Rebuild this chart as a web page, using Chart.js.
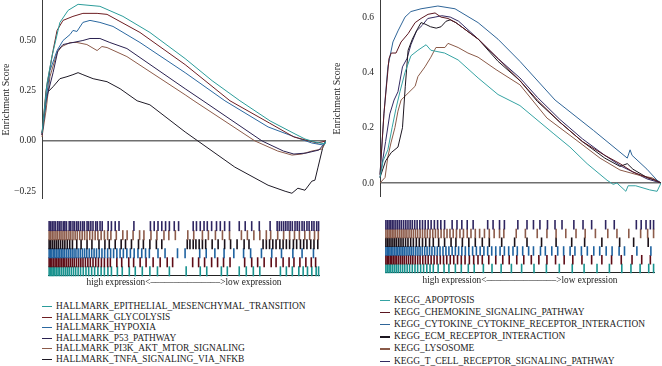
<!DOCTYPE html>
<html>
<head>
<meta charset="utf-8">
<script src="https://cdn.jsdelivr.net/npm/chart.js@4.4.1/dist/chart.umd.min.js"></script>
<style>
  body { margin: 0; background: #fff; }
  #page { position: relative; width: 662px; height: 366px; overflow: hidden; font-family: "Liberation Serif", "Times New Roman", serif; }
  canvas { position: absolute; }
  .key { position: absolute; white-space: nowrap; font-size: 9.4px; color: #1c1c1c; height: 10px; line-height: 10px; }
  .key i { position: absolute; top: 5px; height: 1.3px; }
</style>
</head>
<body>
<div id="page">
  <canvas id="esLeft" width="326" height="199" style="left:0;top:0"></canvas>
  <canvas id="esRight" width="330" height="197" style="left:331px;top:0"></canvas>
  <canvas id="barLeft" width="284" height="73" style="left:42px;top:215px"></canvas>
  <canvas id="barRight" width="282" height="72" style="left:379px;top:214px"></canvas>
</div>
<script>
// ---- hallmark gene sets (left) ----
const hmNames = ['HALLMARK_EPITHELIAL_MESENCHYMAL_TRANSITION', 'HALLMARK_GLYCOLYSIS', 'HALLMARK_HYPOXIA',
  'HALLMARK_P53_PATHWAY', 'HALLMARK_PI3K_AKT_MTOR_SIGNALING', 'HALLMARK_TNFA_SIGNALING_VIA_NFKB'];
const hmColors = ['#2b9c9a', '#6e1e22', '#2b68a0', '#2a2150', '#8c5b4a', '#1e1a26'];
// barcode row colours, top -> bottom
const hmBarColors = ['#2e2560', '#8c5b4a', '#1a1018', '#1f62a0', '#5e0c16', '#18928e'];
const hmTicks = [-0.25, 0, 0.25, 0.5];

// rank position in percent of the ranked list, running enrichment score
const emtRank = [0, 1.8, 3.5, 6.3, 9.2, 12.7, 20.4, 28.5, 38, 50.4, 59.9, 69.7, 80.3, 89.1, 92.6, 96.1, 99.6, 100];
const emtScore = [0.04, 0.29, 0.42, 0.59, 0.65, 0.68, 0.67, 0.62, 0.54, 0.41, 0.30, 0.20, 0.10, 0.035, 0.01, -0.005, -0.015, 0];
const glyRank = [0, 1.4, 3.9, 5.3, 7.4, 10.9, 14.4, 19.4, 22.9, 34.5, 50.4, 66.2, 80, 88.7, 97, 100];
const glyScore = [0.03, 0.25, 0.45, 0.55, 0.60, 0.62, 0.635, 0.635, 0.63, 0.54, 0.38, 0.20, 0.09, 0.02, -0.01, 0];
const hypRank = [0, 1.4, 2.8, 5.3, 7.4, 9.9, 10.9, 12.3, 14.4, 16.9, 20.4, 25, 34.5, 50.4, 64.4, 79.6, 89, 95, 99, 100];
const hypScore = [0.03, 0.20, 0.35, 0.45, 0.50, 0.53, 0.55, 0.545, 0.59, 0.60, 0.59, 0.57, 0.49, 0.34, 0.20, 0.07, 0.02, -0.01, -0.02, 0];
const p53Rank = [0, 1.4, 3.9, 5.6, 7.4, 10.9, 14.4, 16.9, 20.4, 23.9, 29.9, 50.4, 56.7, 77.5, 85, 88.7, 93, 97.5, 99, 100];
const p53Score = [0.03, 0.20, 0.34, 0.45, 0.48, 0.49, 0.50, 0.51, 0.51, 0.49, 0.46, 0.26, 0.20, 0.0, -0.05, -0.065, -0.06, -0.045, -0.02, 0];
const pi3kRank = [0, 1.4, 2.8, 5.3, 7, 9.9, 12.3, 15.8, 19.4, 21.1, 22.9, 29.9, 50.4, 53.5, 75, 83, 88, 91.5, 95, 98.6, 100];
const pi3kScore = [0.02, 0.15, 0.32, 0.44, 0.47, 0.49, 0.49, 0.48, 0.45, 0.47, 0.465, 0.42, 0.23, 0.20, 0.0, -0.05, -0.07, -0.065, -0.05, -0.04, 0];
const tnfaRank = [0, 1.8, 3.9, 6.3, 8.8, 10.9, 12.7, 14.4, 18, 22.9, 27.5, 33.5, 38, 50.4, 54.9, 67.9, 79.6, 85.6, 88, 90.1, 92.6, 95, 96.1, 97.2, 98.9, 100];
const tnfaScore = [0.04, 0.24, 0.27, 0.31, 0.32, 0.33, 0.34, 0.33, 0.31, 0.295, 0.26, 0.20, 0.18, 0.045, 0.0, -0.13, -0.22, -0.25, -0.26, -0.235, -0.245, -0.20, -0.195, -0.13, -0.03, 0];

// hit positions (percent of ranked list), barcode rows top -> bottom (TNFA ... EMT)
const hmHits = [
  [0.2, 0.8, 1.4, 2.0, 2.6, 3.4, 4.0, 4.6, 5.4, 6.0, 6.6, 7.6, 8.2, 9.0, 9.6, 10.4, 11.0, 11.8, 12.6, 13.2, 14.2, 14.8, 15.6, 16.4, 17.4, 18.0, 19.0, 19.8, 22.0, 23.2, 24.6, 26.0, 31.5, 37.6, 39.0, 40.4, 41.8, 43.2, 44.6, 46.4, 48.0, 53.4, 54.6, 56.0, 57.4, 58.6, 60.2, 62.0, 63.4, 65.0, 66.8, 70.4, 72.6, 75.0, 77.8, 81.8, 84.4, 85.2, 86.0, 86.8, 87.6, 88.4, 89.2, 90.0, 91.0, 91.8, 92.6, 93.6, 94.4, 95.4, 96.2, 97.2, 98.0, 99.0, 99.7],
  [0.2, 0.8, 1.4, 2.0, 2.7, 3.3, 4.0, 4.6, 5.3, 6.0, 6.7, 7.5, 8.2, 9.0, 9.8, 10.6, 11.5, 12.4, 13.3, 14.2, 15.2, 16.2, 17.2, 18.2, 19.4, 20.6, 21.8, 23.0, 25.0, 27.4, 29.0, 31.2, 33.6, 35.2, 37.8, 40.0, 42.6, 44.4, 46.8, 51.4, 53.6, 56.8, 59.0, 61.6, 64.2, 66.8, 71.2, 73.4, 75.8, 78.0, 80.4, 82.0, 84.6, 86.8, 89.0, 90.8, 92.6, 94.6, 96.4, 98.2, 99.6],
  [0.2, 0.8, 1.5, 2.2, 2.9, 3.6, 4.4, 5.2, 6.0, 6.9, 7.8, 8.8, 10.4, 12.0, 14.2, 16.0, 18.6, 20.8, 22.4, 24.6, 26.8, 28.4, 30.6, 33.2, 35.0, 37.4, 39.8, 41.8, 51.2, 52.2, 53.4, 54.4, 55.6, 56.8, 58.0, 60.4, 62.6, 65.0, 67.2, 69.6, 72.2, 74.0, 79.2, 80.4, 81.6, 82.8, 84.0, 85.4, 86.6, 87.8, 89.0, 90.4, 91.6, 93.0, 94.2, 95.4, 96.8, 98.0, 99.4],
  [0.2, 0.7, 1.2, 1.8, 2.3, 2.9, 3.5, 4.1, 4.7, 5.3, 5.9, 6.6, 7.3, 8.0, 8.7, 9.4, 10.1, 10.9, 11.7, 12.5, 13.3, 14.1, 15.0, 15.9, 16.8, 17.7, 18.7, 19.7, 20.7, 21.8, 22.9, 24.0, 25.2, 26.4, 27.6, 28.9, 30.2, 31.6, 33.0, 34.4, 35.8, 37.2, 40.4, 43.0, 47.6, 50.4, 55.8, 58.2, 61.4, 64.8, 68.4, 72.0, 74.6, 78.6, 82.4, 86.0, 90.2, 93.6, 97.8],
  [0.2, 0.7, 1.2, 1.8, 2.4, 3.0, 3.6, 4.2, 4.8, 5.4, 6.0, 6.7, 7.4, 8.1, 8.8, 9.5, 10.3, 11.1, 11.9, 12.7, 13.6, 14.5, 15.4, 16.4, 17.4, 18.4, 19.5, 20.6, 21.8, 22.8, 25.2, 27.0, 29.6, 31.4, 33.8, 36.0, 38.6, 41.2, 43.8, 45.8, 53.2, 55.4, 57.6, 60.2, 62.4, 64.6, 67.0, 72.4, 75.0, 77.2, 79.6, 82.2, 84.0, 86.6, 88.8, 90.6, 92.8, 95.0, 97.0, 98.6],
  [0.2, 0.7, 1.2, 1.7, 2.3, 2.9, 3.5, 4.1, 4.8, 5.5, 6.2, 6.9, 7.6, 8.4, 9.2, 10.0, 10.9, 11.8, 12.8, 13.8, 14.8, 15.9, 17.0, 18.2, 19.4, 20.6, 21.9, 23.2, 25.4, 27.2, 29.8, 32.0, 34.6, 37.4, 40.2, 44.6, 50.8, 56.0, 58.4, 63.8, 66.0, 70.4, 73.0, 75.6, 78.0, 85.6, 87.8, 90.0, 92.4, 94.0, 95.6, 97.2, 98.8, 99.7]
];

// ---- KEGG gene sets (right) ----
const kgNames = ['KEGG_APOPTOSIS', 'KEGG_CHEMOKINE_SIGNALING_PATHWAY', 'KEGG_CYTOKINE_CYTOKINE_RECEPTOR_INTERACTION',
  'KEGG_ECM_RECEPTOR_INTERACTION', 'KEGG_LYSOSOME', 'KEGG_T_CELL_RECEPTOR_SIGNALING_PATHWAY'];
const kgColors = ['#35a3a3', '#5a1620', '#2f6598', '#1c1620', '#8a5a48', '#332a62'];
const kgBarColors = ['#2e2560', '#8c5b4a', '#1a1018', '#1f62a0', '#5e0c16', '#18928e'];
const kgTicks = [0, 0.2, 0.4, 0.6];

const apoRank = [0, 1.1, 2.8, 4.3, 5.7, 7.1, 8.9, 11, 13.5, 16.4, 18.1, 23, 27.8, 34.9, 42, 49.8, 61.6, 67.6, 73.7, 80.8, 83, 84.3, 87.5, 88.3, 91, 96, 98.6, 100];
const apoScore = [0.02, 0.08, 0.12, 0.20, 0.27, 0.33, 0.40, 0.46, 0.48, 0.50, 0.48, 0.47, 0.445, 0.38, 0.32, 0.28, 0.18, 0.13, 0.07, 0.01, -0.005, 0.0, -0.03, -0.01, -0.01, -0.025, -0.03, 0];
const chemoRank = [0, 1.4, 3.2, 4, 5.7, 7.5, 10, 12.5, 14.6, 17.1, 19.6, 21.7, 24.2, 27, 35, 42, 49.8, 56, 64, 72, 80, 85.4, 90, 95, 98, 100];
const chemoScore = [0.03, 0.25, 0.45, 0.47, 0.47, 0.51, 0.54, 0.58, 0.595, 0.61, 0.615, 0.60, 0.595, 0.58, 0.52, 0.45, 0.37, 0.30, 0.22, 0.15, 0.10, 0.07, 0.04, 0.02, 0.01, 0];
const cytoRank = [0, 1.4, 2.8, 4.6, 6.4, 8.9, 11, 14.6, 20.6, 26.7, 34.9, 42, 49.8, 62.3, 76, 88, 89, 89.7, 95, 98.6, 100];
const cytoScore = [0.03, 0.25, 0.42, 0.51, 0.55, 0.60, 0.62, 0.63, 0.64, 0.63, 0.58, 0.52, 0.44, 0.30, 0.19, 0.09, 0.12, 0.10, 0.05, 0.01, 0];
const ecmRank = [0, 2, 4, 6.4, 8, 9, 10, 11.5, 13.5, 14.6, 16, 18, 20, 21.7, 23.5, 25, 27, 35, 42, 49.8, 56, 64, 72, 80, 85.4, 88, 90, 95, 98, 100];
const ecmScore = [0.02, 0.08, 0.11, 0.13, 0.20, 0.35, 0.48, 0.52, 0.56, 0.58, 0.575, 0.565, 0.56, 0.565, 0.585, 0.59, 0.58, 0.52, 0.44, 0.37, 0.295, 0.22, 0.15, 0.09, 0.06, 0.07, 0.05, 0.02, 0.01, 0];
const lysoRank = [0, 1.8, 2.8, 3.9, 5.3, 6.4, 7.5, 10, 12.5, 13.5, 16, 18.1, 19.9, 23.1, 24.2, 27.8, 31.3, 34.9, 41.3, 49.8, 59.4, 71.2, 78.3, 85.4, 91.5, 97, 100];
const lysoScore = [0.0, 0.02, 0.095, 0.145, 0.20, 0.26, 0.30, 0.325, 0.35, 0.385, 0.42, 0.455, 0.49, 0.49, 0.505, 0.49, 0.47, 0.455, 0.41, 0.355, 0.235, 0.145, 0.09, 0.047, 0.03, 0.018, 0];
const tcellRank = [0, 2, 3.5, 5, 6.4, 8, 9.6, 11, 13, 15, 17, 19.6, 22, 25, 28, 35, 42, 49.8, 56, 64, 72, 80, 86, 90, 95, 100];
const tcellScore = [0.02, 0.15, 0.25, 0.30, 0.33, 0.42, 0.45, 0.50, 0.55, 0.57, 0.595, 0.60, 0.605, 0.60, 0.585, 0.52, 0.45, 0.38, 0.31, 0.23, 0.16, 0.10, 0.06, 0.04, 0.015, 0];

// barcode rows top -> bottom (T_CELL ... APOPTOSIS)
const kgHits = [
  [0.2, 0.8, 1.4, 2.0, 2.6, 3.2, 3.9, 4.6, 5.3, 6.0, 6.8, 7.6, 8.4, 9.2, 10.0, 10.9, 11.8, 12.8, 13.8, 14.8, 15.9, 17.0, 18.2, 19.4, 20.6, 22.0, 24.8, 26.6, 28.4, 30.4, 32.6, 38.0, 40.0, 42.4, 44.2, 49.2, 52.6, 55.0, 57.4, 60.2, 63.0, 65.6, 70.0, 73.4, 76.6, 81.8, 85.0, 93.2, 95.0, 96.8, 98.4, 99.6],
  [0.2, 0.8, 1.4, 2.0, 2.6, 3.2, 3.8, 4.5, 5.2, 5.9, 6.6, 7.3, 8.0, 8.8, 9.6, 10.4, 11.2, 12.0, 12.9, 13.8, 14.7, 15.6, 16.6, 17.6, 18.6, 19.6, 20.7, 21.8, 22.9, 24.0, 25.2, 26.4, 27.7, 29.0, 30.4, 31.8, 33.4, 35.0, 36.8, 38.6, 40.4, 42.4, 44.0, 48.6, 52.0, 56.4, 60.0, 63.4, 67.0, 70.8, 74.2, 78.0, 82.6, 86.0, 90.4, 94.8, 97.4, 99.6],
  [0.2, 0.8, 1.4, 2.1, 2.8, 3.5, 4.2, 5.0, 5.8, 6.6, 7.5, 8.4, 9.4, 10.4, 11.5, 12.6, 13.8, 15.0, 16.4, 17.8, 19.8, 22.0, 24.4, 26.2, 28.6, 31.0, 33.4, 36.0, 38.6, 43.2, 48.0, 52.6, 58.0, 63.4, 69.2, 74.0, 80.4, 87.0, 92.2, 97.6],
  [0.2, 0.7, 1.2, 1.7, 2.2, 2.8, 3.4, 4.0, 4.6, 5.2, 5.8, 6.4, 7.0, 7.7, 8.4, 9.1, 9.8, 10.5, 11.3, 12.1, 12.9, 13.7, 14.6, 15.5, 16.4, 17.3, 18.3, 19.3, 20.3, 21.4, 22.5, 23.6, 24.8, 26.0, 27.2, 28.4, 29.7, 31.0, 32.4, 33.8, 35.2, 36.6, 38.0, 39.5, 41.0, 42.6, 44.2, 45.8, 47.4, 49.0, 51.0, 53.2, 55.0, 57.6, 59.4, 61.8, 64.0, 66.2, 68.6, 70.4, 72.8, 75.0, 77.4, 79.6, 82.0, 84.2, 86.8, 88.8, 93.4, 98.6],
  [0.2, 0.7, 1.2, 1.8, 2.4, 3.0, 3.6, 4.2, 4.9, 5.6, 6.3, 7.0, 7.8, 8.6, 9.4, 10.2, 11.1, 12.0, 12.9, 13.9, 14.9, 15.9, 17.0, 18.1, 19.2, 20.4, 21.6, 22.8, 24.1, 25.4, 26.8, 28.2, 29.6, 31.2, 32.8, 34.4, 36.0, 38.4, 41.0, 43.6, 46.0, 48.8, 51.4, 54.2, 57.0, 60.0, 63.2, 66.4, 69.6, 73.0, 76.6, 80.4, 84.0, 87.6, 91.6, 95.2, 98.4],
  [0.2, 0.8, 1.4, 2.0, 2.7, 3.4, 4.1, 4.8, 5.6, 6.4, 7.2, 8.1, 9.0, 10.0, 11.0, 12.0, 13.1, 14.2, 15.4, 16.6, 17.8, 19.6, 21.8, 23.6, 26.0, 28.2, 30.8, 33.0, 36.4, 39.6, 43.0, 46.8, 50.6, 55.2, 59.8, 64.6, 69.4, 73.8, 78.6, 83.2, 87.8, 91.2, 94.6, 97.8, 99.6]
];

const caption = 'high expression<\u2013\u2013\u2013\u2013\u2013\u2013\u2013\u2013\u2013\u2013\u2013\u2013\u2013\u2013\u2013>low expression';

const serif = '"Liberation Serif", "Times New Roman", serif';

function toPoints(ranks, scores) {
  return ranks.map((r, i) => ({ x: r, y: scores[i] }));
}

function scoreChart(id, sets, colors, ticks, axisWidth, yMin, yMax, digits) {
  new Chart(document.getElementById(id), {
    type: 'line',
    data: {
      datasets: sets.map((s, i) => ({
        data: toPoints(s[0], s[1]),
        borderColor: colors[i],
        borderWidth: 1,
        pointRadius: 0,
        tension: 0,
        clip: false
      }))
    },
    options: {
      responsive: false,
      animation: false,
      events: [],
      layout: { padding: 0 },
      plugins: { legend: { display: false }, tooltip: { enabled: false } },
      scales: {
        x: { type: 'linear', min: 0, max: 100, display: false },
        y: {
          min: yMin,
          max: yMax,
          afterBuildTicks: s => { s.ticks = ticks.map(v => ({ value: v })); },
          afterFit: s => { s.width = axisWidth; s.paddingTop = 0; s.paddingBottom = 0; },
          ticks: {
            padding: 6,
            color: '#262626',
            font: { family: serif, size: 9.5 },
            callback: v => (v < 0 ? '\u2212' : '') + Math.abs(v).toFixed(digits)
          },
          grid: {
            drawTicks: false,
            lineWidth: 1.5,
            color: c => (c.tick && c.tick.value === 0 ? '#6f6f6f' : 'rgba(0,0,0,0)')
          },
          border: { display: true, color: '#3c3c3c', width: 1 },
          title: { display: true, text: 'Enrichment Score', color: '#262626', padding: 0, font: { family: serif, size: 10 } }
        }
      }
    }
  });
}

function barcodeChart(id, hits, colors, tick, padTop) {
  const rows = hits.length;
  new Chart(document.getElementById(id), {
    type: 'scatter',
    data: {
      datasets: hits.map((h, r) => ({
        data: h.map(x => ({ x: x, y: r })),
        showLine: false,
        pointStyle: 'line',
        pointRotation: 90,
        pointRadius: tick,
        pointBorderWidth: 1.6,
        pointBorderColor: colors[r],
        pointBackgroundColor: colors[r],
        clip: false
      }))
    },
    options: {
      responsive: false,
      animation: false,
      events: [],
      layout: { padding: 0 },
      plugins: { legend: { display: false }, tooltip: { enabled: false } },
      scales: {
        x: {
          type: 'linear', min: 0, max: 100,
          ticks: { display: false },
          grid: { display: false, drawTicks: false },
          border: { display: true, color: '#222', width: 1 },
          title: { display: true, text: caption, color: '#1c1c1c', padding: { top: padTop, bottom: 0 }, font: { family: serif, size: 9.3 } }
        },
        y: { min: -0.5, max: rows - 0.5, reverse: true, display: false }
      }
    }
  });
}

scoreChart('esLeft', [[emtRank, emtScore], [glyRank, glyScore], [hypRank, hypScore], [p53Rank, p53Score], [pi3kRank, pi3kScore], [tnfaRank, tnfaScore]],
  hmColors, hmTicks, 42, -0.2886, 0.7015, 2);
scoreChart('esRight', [[apoRank, apoScore], [chemoRank, chemoScore], [cytoRank, cytoScore], [ecmRank, ecmScore], [lysoRank, lysoScore], [tcellRank, tcellScore]],
  kgColors, kgTicks, 49, -0.0506, 0.6618, 1);
barcodeChart('barLeft', hmHits, hmBarColors, 5, 1);
barcodeChart('barRight', kgHits, kgBarColors, 4.75, 2);

// legends
function legend(names, colors, lineLeft, textLeft, top, step) {
  const page = document.getElementById('page');
  names.forEach((n, i) => {
    const d = document.createElement('div');
    d.className = 'key';
    d.style.left = lineLeft + 'px';
    d.style.top = (top + i * step - 5) + 'px';
    d.style.paddingLeft = (textLeft - lineLeft) + 'px';
    d.innerHTML = '<i style="left:0;width:10px;background:' + colors[i] + '"></i>' + n;
    page.appendChild(d);
  });
}
legend(hmNames, hmColors, 42, 56, 306, 10.5);
legend(kgNames, kgColors, 380, 394, 300, 12.1);
</script>
</body>
</html>
